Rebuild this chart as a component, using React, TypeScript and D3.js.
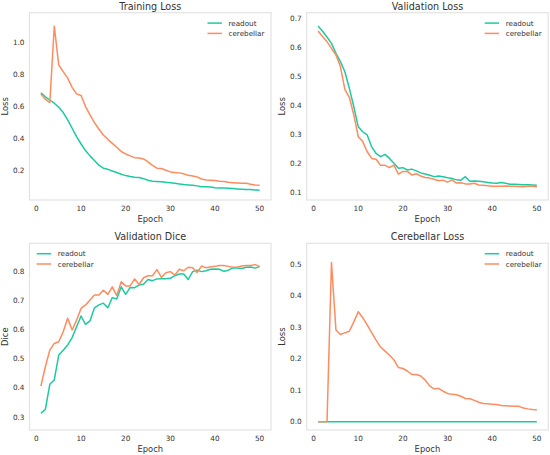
import React from "react";
import * as d3 from "d3";

const epochs = d3.range(1, 51);

const trainReadout = [0.685,0.66,0.64,0.62,0.595,0.562,0.516,0.464,0.412,0.366,0.325,0.292,0.263,0.234,0.215,0.208,0.198,0.188,0.177,0.169,0.163,0.159,0.157,0.15,0.14,0.134,0.132,0.13,0.127,0.125,0.121,0.117,0.113,0.111,0.109,0.105,0.1,0.1,0.098,0.094,0.092,0.092,0.09,0.088,0.086,0.084,0.082,0.082,0.08,0.078];
const trainCerebellar = [0.678,0.645,0.624,1.1,0.858,0.817,0.776,0.719,0.678,0.668,0.599,0.547,0.499,0.458,0.422,0.395,0.37,0.346,0.319,0.304,0.292,0.281,0.279,0.273,0.254,0.233,0.215,0.213,0.202,0.192,0.188,0.186,0.18,0.171,0.167,0.161,0.148,0.142,0.14,0.138,0.134,0.132,0.127,0.125,0.123,0.121,0.121,0.115,0.111,0.109];

const valReadout = [0.673,0.655,0.635,0.613,0.579,0.55,0.515,0.458,0.395,0.325,0.308,0.297,0.256,0.233,0.222,0.23,0.216,0.199,0.182,0.184,0.176,0.179,0.173,0.166,0.162,0.158,0.153,0.155,0.153,0.149,0.147,0.142,0.141,0.153,0.137,0.138,0.137,0.135,0.133,0.131,0.13,0.133,0.13,0.127,0.127,0.126,0.125,0.125,0.124,0.123];
const valCerebellar = [0.656,0.637,0.619,0.596,0.573,0.533,0.454,0.427,0.366,0.291,0.274,0.239,0.216,0.213,0.192,0.192,0.184,0.193,0.162,0.171,0.171,0.159,0.163,0.155,0.15,0.148,0.144,0.139,0.141,0.134,0.142,0.131,0.132,0.128,0.128,0.13,0.124,0.123,0.122,0.12,0.12,0.12,0.121,0.12,0.12,0.119,0.118,0.12,0.12,0.118];

const diceReadout = [0.313,0.326,0.412,0.427,0.512,0.529,0.547,0.572,0.609,0.646,0.617,0.629,0.674,0.684,0.69,0.674,0.709,0.704,0.746,0.72,0.744,0.743,0.752,0.755,0.771,0.767,0.773,0.774,0.774,0.775,0.784,0.79,0.79,0.771,0.798,0.803,0.798,0.801,0.806,0.807,0.806,0.799,0.803,0.811,0.81,0.809,0.813,0.814,0.81,0.815];
const diceCerebellar = [0.406,0.472,0.529,0.552,0.558,0.592,0.638,0.598,0.632,0.672,0.684,0.701,0.718,0.718,0.734,0.72,0.746,0.716,0.763,0.749,0.749,0.773,0.754,0.777,0.784,0.784,0.805,0.778,0.794,0.798,0.786,0.806,0.801,0.813,0.811,0.795,0.817,0.811,0.814,0.816,0.819,0.819,0.816,0.813,0.813,0.817,0.819,0.819,0.822,0.816];

const cbReadout = epochs.map(() => 0);
const cbCerebellar = [0,0,0,0.505,0.291,0.277,0.282,0.287,0.317,0.349,0.33,0.307,0.283,0.259,0.237,0.224,0.211,0.196,0.172,0.169,0.161,0.15,0.15,0.145,0.132,0.114,0.104,0.106,0.097,0.09,0.087,0.086,0.081,0.074,0.073,0.068,0.062,0.058,0.057,0.056,0.055,0.052,0.051,0.05,0.049,0.049,0.044,0.041,0.039,0.038];

const xTicks = [0, 10, 20, 30, 40, 50];
const seriesNames = ["readout", "cerebellar"];
const GREEN = "#1ec9a0";
const ORANGE = "#ff8b5e";
const TEXT = "#333333";

type Panel = {
  title: string;
  ylabel: string;
  readout: number[];
  cerebellar: number[];
  yTicks: number[];
  yDomain: [number, number];
  frame: { l: number; r: number; t: number; b: number };
  legend: "right" | "left";
};

const panels: Panel[] = [
  { title: "Training Loss", ylabel: "Loss", readout: trainReadout, cerebellar: trainCerebellar,
    yTicks: [0.2, 0.4, 0.6, 0.8, 1.0], yDomain: [0.017, 1.184],
    frame: { l: 29.5, r: 271, t: 12.7, b: 200 }, legend: "right" },
  { title: "Validation Loss", ylabel: "Loss", readout: valReadout, cerebellar: valCerebellar,
    yTicks: [0.1, 0.2, 0.3, 0.4, 0.5, 0.6, 0.7], yDomain: [0.0724, 0.719],
    frame: { l: 306.7, r: 548.2, t: 12.7, b: 200 }, legend: "right" },
  { title: "Validation Dice", ylabel: "Dice", readout: diceReadout, cerebellar: diceCerebellar,
    yTicks: [0.3, 0.4, 0.5, 0.6, 0.7, 0.8], yDomain: [0.2555, 0.895],
    frame: { l: 29.5, r: 271, t: 243.3, b: 430 }, legend: "left" },
  { title: "Cerebellar Loss", ylabel: "Loss", readout: cbReadout, cerebellar: cbCerebellar,
    yTicks: [0.0, 0.1, 0.2, 0.3, 0.4, 0.5], yDomain: [-0.026, 0.566],
    frame: { l: 306.7, r: 548.2, t: 243.3, b: 430 }, legend: "right" },
];

function PanelView({ p }: { p: Panel }) {
  const { l, r, t, b } = p.frame;
  const x = d3.scaleLinear().domain([-1.55, 52.55]).range([l, r]);
  const y = d3.scaleLinear().domain(p.yDomain).range([b, t]);
  const line = d3.line<number>().x((_, i) => x(epochs[i])).y((v) => y(v));
  const fmt = d3.format(".1f");
  const lgX = p.legend === "right" ? r - 63.5 : l + 7.2;
  const colors = [GREEN, ORANGE];
  return (
    <g fontFamily="DejaVu Sans" fill={TEXT}>
      <rect x={l} y={t} width={r - l} height={b - t} fill="white" stroke="#e3e3e3" strokeWidth={1.2} />
      {xTicks.map((v) => (
        <text key={"x" + v} x={x(v)} y={b + 11.3} fontSize={7.3} textAnchor="middle">{v}</text>
      ))}
      {p.yTicks.map((v) => (
        <text key={"y" + v} x={l - 5} y={y(v)} dy="0.36em" fontSize={7.3} textAnchor="end">{fmt(v)}</text>
      ))}
      <text x={(l + r) / 2} y={b + 21.6} fontSize={8.4} textAnchor="middle">Epoch</text>
      <text transform={`translate(${l - 22},${(t + b) / 2}) rotate(-90)`} fontSize={8.4} textAnchor="middle">{p.ylabel}</text>
      <text x={(l + r) / 2} y={t - 3} fontSize={9.6} textAnchor="middle">{p.title}</text>
      <path d={line(p.readout) || ""} fill="none" stroke={GREEN} strokeWidth={1.5} strokeLinejoin="round" />
      <path d={line(p.cerebellar) || ""} fill="none" stroke={ORANGE} strokeWidth={1.5} strokeLinejoin="round" />
      {seriesNames.map((n, i) => {
        const yy = t + 10.4 + i * 10.3;
        return (
          <g key={n}>
            <line x1={lgX} x2={lgX + 14.4} y1={yy} y2={yy} stroke={colors[i]} strokeWidth={1.5} />
            <text x={lgX + 21} y={yy} dy="0.36em" fontSize={7.2}>{n}</text>
          </g>
        );
      })}
    </g>
  );
}

export default function App() {
  return (
    <div style={{ position: "absolute", left: 0, top: 0 }}>
      <svg width={550} height={455} viewBox="0 0 550 455" style={{ display: "block", background: "white" }}>
        {panels.map((p) => (
          <PanelView key={p.title} p={p} />
        ))}
      </svg>
    </div>
  );
}
